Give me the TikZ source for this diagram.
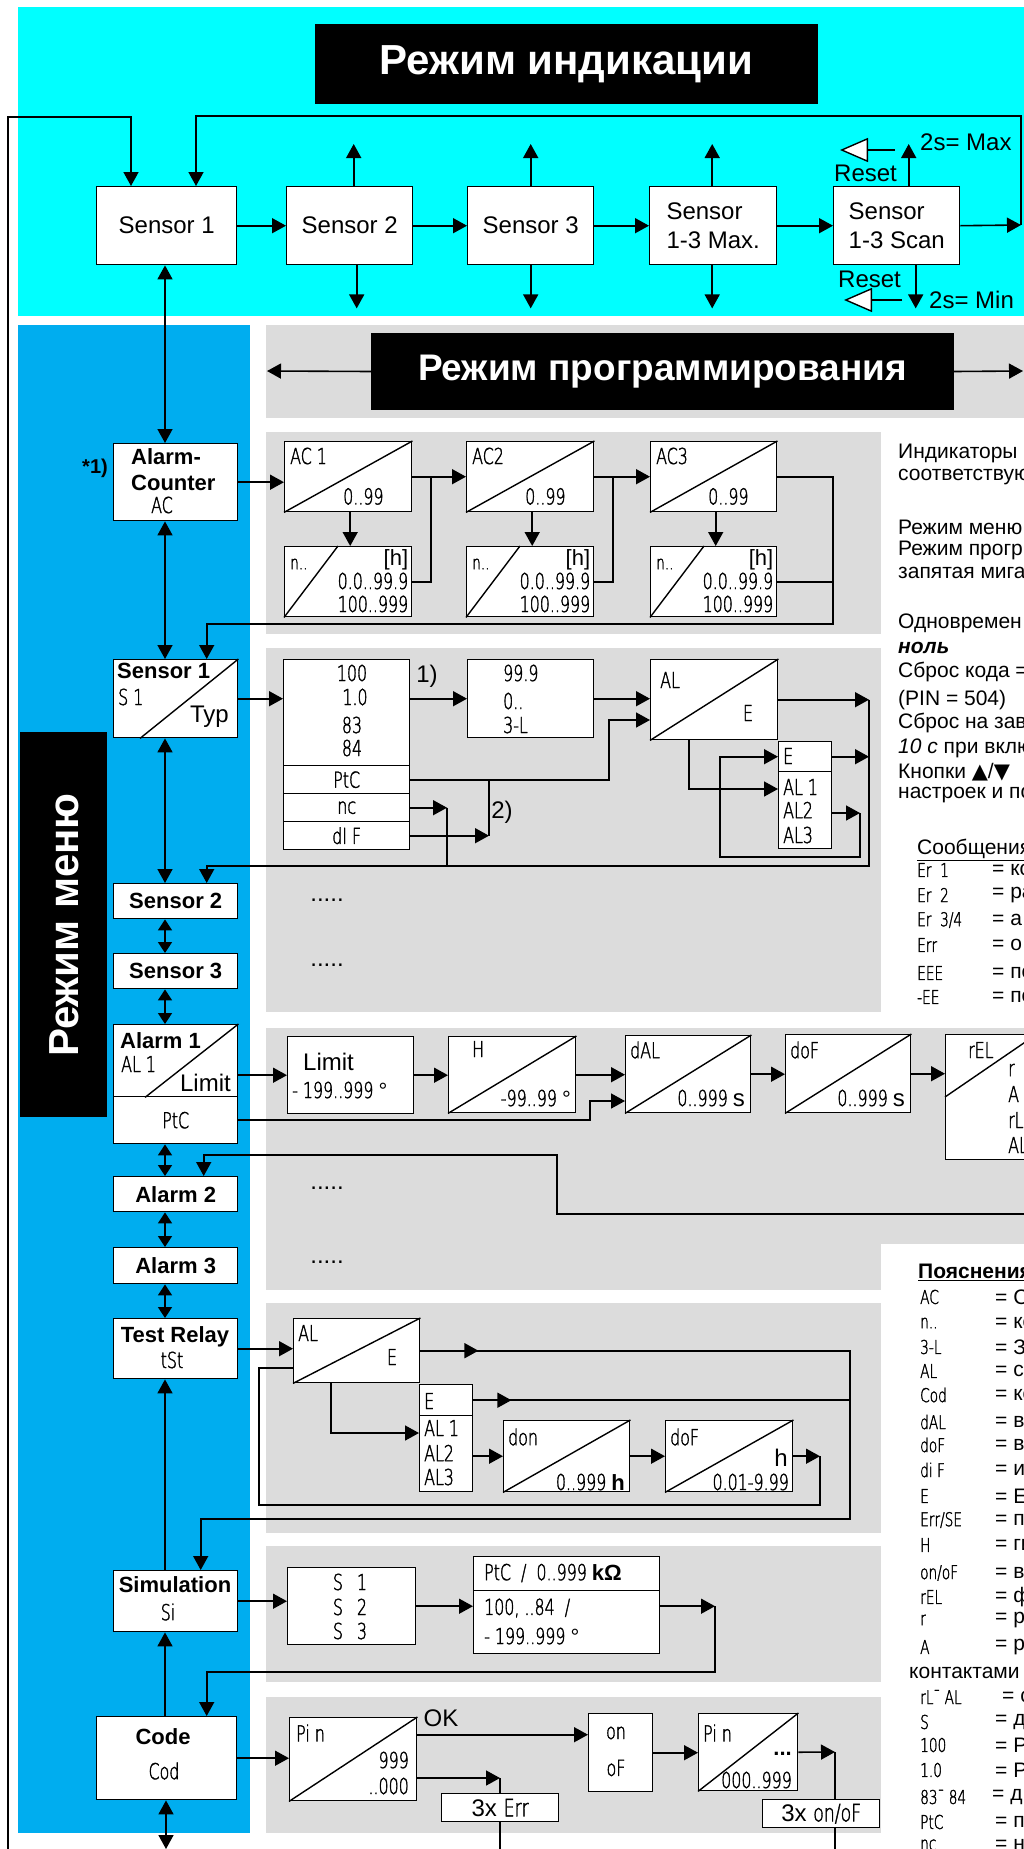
\documentclass[tikz,border=0pt]{standalone}
\usepackage{fontspec}
\setmainfont{Liberation Sans}
\newfontfamily\segfont{DejaVu Sans ExtraLight}[FakeStretch=0.72, FakeBold=1.5]
\newfontfamily\symfont{DejaVu Sans}
\usetikzlibrary{arrows.meta,positioning}

\definecolor{indcyan}{HTML}{00FFFF}
\definecolor{menublue}{HTML}{00ADEF}
\definecolor{panelgrey}{HTML}{DCDCDC}

\begin{document}
\begin{tikzpicture}[
    x=1pt, y=-1pt,
    >={Triangle[length=14pt,width=15pt]},
    wire/.style={line width=1.6pt},
    conn/.style={wire, ->},
    dconn/.style={wire, <->},
    sconn/.style={wire, {Triangle[length=11pt,width=14pt]}-{Triangle[length=11pt,width=14pt]}},
    resettip/.style={line width=1.4pt, -{Triangle[length=28pt,width=24pt,fill=white]}},
    dbox/.style={draw, fill=white, line width=1.4pt, inner sep=0pt, anchor=north west},
    wh/.style 2 args={minimum width=#1pt, minimum height=#2pt},
    diag/.style={line width=1.4pt},
    seg/.style={font=\segfont\fontsize{22}{24}\selectfont, inner sep=0pt},
    segs/.style={font=\segfont\fontsize{19}{21}\selectfont, inner sep=0pt},
    txt/.style={font=\fontsize{24}{29}\selectfont, inner sep=0pt},
    btxt/.style={font=\bfseries\fontsize{22}{26}\selectfont, inner sep=0pt},
    note/.style={font=\fontsize{21}{25}\selectfont, inner sep=0pt, anchor=west},
    titlebox/.style={fill=black, text=white, inner sep=0pt}
]

% Background areas
\useasboundingbox (0,0) rectangle (1024,1849);
\clip (0,0) rectangle (1024,1849);
\fill[white] (0,0) rectangle (1024,1849);
\fill[indcyan] (18,7) rectangle (1024,316);
\fill[menublue] (18,325) rectangle (250,1833);
\foreach \ya/\yb/\xb in {325/418/1024, 432/634/881, 648/1012/881, 1028/1244/1024,
    1244/1290/881, 1303/1533/881, 1546/1682/881, 1697/1833/881}
  \fill[panelgrey] (266,\ya) rectangle (\xb,\yb);

% Display mode
\node[titlebox, font=\bfseries\fontsize{42}{48}\selectfont, minimum width=503pt, minimum height=80pt] (indtitle) at (566.5,64) {Режим индикации};

\node[dbox, wh={140}{78}, txt] (sen1) at (96,186) {Sensor 1};
\node[dbox, wh={126}{78}, txt] (sen2) at (286,186) {Sensor 2};
\node[dbox, wh={126}{78}, txt] (sen3) at (467,186) {Sensor 3};
\node[dbox, wh={127}{78}, txt, align=left] (senmax) at (649,186) {Sensor\\1-3 Max.};
\node[dbox, wh={126}{78}, txt, align=left] (senscan) at (833,186) {Sensor\\1-3 Scan};

\draw[conn] (sen1.east) -- (sen2.west);
\draw[conn] (sen2.east) -- (sen3.west);
\draw[conn] (sen3.east) -- (senmax.west);
\draw[conn] (senmax.east) -- (senscan.west);

\coordinate (scanout) at (1021,225);
\coordinate (loopa) at (196,116);
\coordinate (loopb) at (131,117);
\coordinate (retbot) at (8,1849);
\draw[conn] (senscan.east) -- (scanout);
\draw[conn] (scanout) |- (loopa) -- (loopa |- sen1.north);
\draw[conn] (retbot) |- (loopb) -- (loopb |- sen1.north);

\draw[conn] ([xshift=4pt]sen2.north) -- ++(0,-42);
\draw[conn] ([xshift=7pt]sen2.south) -- ++(0,43);
\draw[conn] (sen3.north) -- ++(0,-42);
\draw[conn] (sen3.south) -- ++(0,43);
\draw[conn] ([xshift=-1pt]senmax.north) -- ++(0,-42);
\draw[conn] ([xshift=-1pt]senmax.south) -- ++(0,43);
\draw[conn] ([xshift=12pt]senscan.north) -- ++(0,-42);
\draw[conn] ([xshift=19pt]senscan.south) -- ++(0,43);

\node[txt, anchor=west] (maxlbl) at (920,142) {2s= Max};
\node[txt, anchor=west] (minlbl) at (929,300) {2s= Min};
\node[txt, anchor=west] (rstup) at (834,173) {Reset};
\node[txt, anchor=west] (rstdn) at (838,279) {Reset};
\coordinate (rstupend) at (895,150);
\coordinate (rstdnend) at (902,300);
\draw[resettip] (rstupend) -- ++(-55,0);
\draw[resettip] (rstdnend) -- ++(-58,0);

% Menu column
\node[titlebox, minimum width=87pt, minimum height=385pt, anchor=north west] (menutitle) at (20,732) {};
\node[rotate=90, text=white, font=\bfseries\fontsize{42}{48}\selectfont, inner sep=0pt] (menutext) at (64,925) {Режим меню};

\node[dbox, wh={124}{77}] (acnt) at (113,443) {};
\node[btxt, anchor=west] (acnta) at (131,457) {Alarm-};
\node[btxt, anchor=west] (acntb) at (131,483) {Counter};
\node[seg, anchor=west] (acntc) at (151,505) {AC};
\node[btxt, font=\bfseries\fontsize{20}{24}\selectfont, anchor=east] (star) at (108,468) {*1)};

\node[dbox, wh={124}{78}] (ms1) at (113,659) {};
\draw[diag] ([xshift=27pt]ms1.south west) -- (ms1.north east);
\node[btxt, anchor=west] (ms1a) at (117,671) {Sensor 1};
\node[seg, anchor=west] (ms1b) at (118,697) {S 1};
\node[txt, anchor=east] (ms1c) at (229,717) {Typ};

\node[dbox, wh={124}{35}, btxt] (ms2) at (113,883) {Sensor 2};
\node[dbox, wh={124}{35}, btxt] (ms3) at (113,953) {Sensor 3};

\node[dbox, wh={124}{72}] (mal1) at (113,1024) {};
\node[dbox, wh={124}{47}, seg] (mal1p) at (113,1096) {PtC};
\draw[diag] ([xshift=32pt]mal1.south west) -- (mal1.north east);
\node[btxt, anchor=west] (mal1a) at (120,1041) {Alarm 1};
\node[seg, anchor=west] (mal1b) at (121,1064) {AL 1};
\node[txt, anchor=east] (mal1c) at (231,1083) {Limit};

\node[dbox, wh={124}{35}, btxt] (mal2) at (113,1176) {Alarm 2};
\node[dbox, wh={124}{36}, btxt] (mal3) at (113,1247) {Alarm 3};

\node[dbox, wh={124}{60}] (mtst) at (113,1318) {};
\node[btxt] (mtsta) at (175,1337) {Test Relay};
\node[seg] (mtstb) at (172,1360) {tSt};

\node[dbox, wh={124}{61}] (msim) at (113,1570) {};
\node[btxt] (msima) at (175,1585) {Simulation};
\node[seg] (msimb) at (168,1612) {Si};

\node[dbox, wh={140}{83}] (mcod) at (96,1716) {};
\node[btxt] (mcoda) at (163,1737) {Code};
\node[seg] (mcodb) at (164,1771) {Cod};

\coordinate (spine) at (165,0);
\coordinate (codbot) at (166,1849);
\draw[dconn] (spine |- sen1.south) -- (spine |- acnt.north);
\draw[dconn] (spine |- acnt.south) -- (spine |- ms1.north);
\draw[dconn] (spine |- ms1.south) -- (spine |- ms2.north);
\draw[sconn] (spine |- ms2.south) -- (spine |- ms3.north);
\draw[sconn] (spine |- ms3.south) -- (spine |- mal1.north);
\draw[sconn] (spine |- mal1p.south) -- (spine |- mal2.north);
\draw[sconn] (spine |- mal2.south) -- (spine |- mal3.north);
\draw[sconn] (spine |- mal3.south) -- (spine |- mtst.north);
\draw[conn] (spine |- msim.north) -- (spine |- mtst.south);
\draw[conn] (spine |- mcod.north) -- (spine |- msim.south);
\draw[dconn] (codbot |- mcod.south) -- (codbot);

% Programming mode title
\node[titlebox, font=\bfseries\fontsize{37}{42}\selectfont, minimum width=583pt, minimum height=77pt] (progtitle) at (662.5,371.5) {Режим программирования};
\coordinate (progl) at (267,371);
\coordinate (progr) at (1023,371);
\draw[conn] (progtitle.west) -- (progl);
\draw[conn] (progtitle.east) -- (progr);

% Alarm counter row
\node[dbox, wh={127}{70}] (ac1) at (284,441) {};
\node[dbox, wh={127}{70}] (nh1) at (284,546) {};
\node[dbox, wh={127}{70}] (ac2) at (466,441) {};
\node[dbox, wh={127}{70}] (nh2) at (466,546) {};
\node[dbox, wh={126}{70}] (ac3) at (650,441) {};
\node[dbox, wh={126}{70}] (nh3) at (650,546) {};
\foreach \b/\t in {ac1/AC 1, ac2/AC2, ac3/AC3} {
  \draw[diag] (\b.south west) -- (\b.north east);
  \node[seg, anchor=west] (t\b) at ([xshift=6pt,yshift=-15pt]\b.north west) {\t};
  \node[seg] (v\b) at ([xshift=-49pt,yshift=16pt]\b.south east) {0..99};
}
\foreach \b in {nh1, nh2, nh3} {
  \draw[diag] (\b.south west) -- ([xshift=54pt]\b.north west);
  \node[segs, anchor=west] (n\b) at ([xshift=6pt,yshift=-18pt]\b.north west) {n..};
  \node[font=\fontsize{22}{24}\selectfont, inner sep=0pt, anchor=east] (h\b) at ([xshift=-4pt,yshift=-14pt]\b.north east) {[h]};
  \node[seg, anchor=east] (r\b) at ([xshift=-4pt,yshift=-35pt]\b.north east) {0.0..99.9};
  \node[seg, anchor=east] (q\b) at ([xshift=-4pt,yshift=-58pt]\b.north east) {100..999};
}
\coordinate (jac1) at (431,476);
\coordinate (jac2) at (613,476);
\coordinate (acloop) at (833,624);
\draw[conn] (acnt.east) -- (acnt.east -| ac1.west);
\draw[conn] ([xshift=2pt]ac1.south) -- ([xshift=2pt]nh1.north);
\draw[conn] ([xshift=2pt]ac2.south) -- ([xshift=2pt]nh2.north);
\draw[conn] ([xshift=2pt]ac3.south) -- ([xshift=2pt]nh3.north);
\draw[conn] (ac1.east) -- (ac2.west);
\draw[wire] (nh1.east) -| (jac1);
\draw[conn] (ac2.east) -- (ac3.west);
\draw[wire] (nh2.east) -| (jac2);
\draw[conn] (ac3.east) -| (acloop) -| ([xshift=31pt]ms1.north);
\draw[wire] (nh3.east) -- (nh3.east -| acloop);

% Sensor 1 row
\node[dbox, wh={126}{106}] (typa) at (283,659) {};
\node[dbox, wh={126}{28}, seg] (typb) at (283,765) {PtC};
\node[dbox, wh={126}{28}, seg] (typc) at (283,793) {nc};
\node[dbox, wh={126}{28}, seg] (typd) at (283,821) {dI F};
\node[seg] (t100) at (352,673) {100};
\node[seg] (t10) at (355,697) {1.0};
\node[seg] (t83) at (352,725) {83};
\node[seg] (t84) at (352,748) {84};
\node[txt] (fn1) at (427,676) {1)};

\node[dbox, wh={126}{78}] (box999) at (467,659) {};
\node[seg, anchor=west] (r999) at (503,673) {99.9};
\node[seg, anchor=west] (r0) at (503,701) {0..};
\node[seg, anchor=west] (r3l) at (503,725) {3-L};

\node[dbox, wh={127}{80}] (boxal) at (650,659) {};
\draw[diag] (boxal.south west) -- (boxal.north east);
\node[seg, anchor=west] (boxalt) at (660,680) {AL};
\node[seg] (boxalv) at (748,713) {E};

\node[dbox, wh={53}{30}] (lste) at (778,741) {};
\node[dbox, wh={53}{77}] (lsta) at (778,771) {};
\node[seg, anchor=west] (lste1) at (783,756) {E};
\node[seg, anchor=west] (lsta1) at (783,787) {AL 1};
\node[seg, anchor=west] (lsta2) at (783,810) {AL2};
\node[seg, anchor=west] (lsta3) at (783,835) {AL3};

\coordinate (ptcbend) at (609,720);
\coordinate (difjoin) at (489,779);
\coordinate (ncjoin) at (447,807);
\coordinate (s1loop) at (869,866);
\coordinate (albend) at (689,789);
\coordinate (al2out) at (860,813);
\coordinate (al2back) at (720,857);
\draw[conn] (ms1.east) -- (ms1.east -| typa.west);
\draw[conn] (box999.west -| typa.east) -- (box999.west);
\draw[conn] (box999.east) -- (box999.east -| boxal.west);
\draw[conn] (typb.east) -| (ptcbend) -- (ptcbend -| boxal.west);
\draw[wire] (difjoin) -- (difjoin |- typd.east);
\draw[conn] (typd.east) -- (typd.east -| difjoin);
\node[txt] (fn2) at (502,812) {2)};
\draw[conn] (typc.east) -- (typc.east -| ncjoin);
\draw[wire] (typc.east -| ncjoin) -- (ncjoin |- s1loop);
\draw[conn] (boxal.east) -- (boxal.east -| s1loop);
\draw[conn] (boxal.east -| s1loop) -- (s1loop) -| ([xshift=31pt]ms2.north);
\draw[conn] (lste.east) -- (lste.east -| s1loop);
\draw[conn] (boxal.south -| albend) |- (albend -| lsta.west);
\draw[conn] (al2out -| lsta.east) -- (al2out);
\draw[conn] (al2out) |- (al2back) |- (lste.west);

\node[txt] (dots1) at (327,900) {.....};
\node[txt] (dots2) at (327,965) {.....};

% Alarm 1 row
\node[dbox, wh={126}{77}] (limbox) at (287,1036) {};
\node[txt, anchor=west] (limt) at (303,1062) {Limit};
\node[seg, anchor=west] (limv) at (292,1090) {- 199..999 {\rmfamily °}};

\node[dbox, wh={127}{76}] (hbox) at (448,1036) {};
\draw[diag] (hbox.south west) -- (hbox.north east);
\node[seg, anchor=west] (ht) at (472,1049) {H};
\node[seg, anchor=east] (hv) at (571,1098) {-99..99 {\rmfamily °}};

\node[dbox, wh={125}{77}] (dalbox) at (625,1035) {};
\draw[diag] (dalbox.south west) -- (dalbox.north east);
\node[seg, anchor=west] (dalt) at (630,1050) {dAL};
\node[seg, anchor=east] (dalv) at (745,1098) {0..999 {\rmfamily\fontsize{24}{24}\selectfont s}};

\node[dbox, wh={125}{78}] (dofbox) at (785,1034) {};
\draw[diag] (dofbox.south west) -- (dofbox.north east);
\node[seg, anchor=west] (doft) at (790,1050) {doF};
\node[seg, anchor=east] (dofv) at (905,1098) {0..999 {\rmfamily\fontsize{24}{24}\selectfont s}};

\node[dbox, wh={127}{125}] (relbox) at (945,1034) {};
\draw[diag] ([yshift=-63pt]relbox.north west) -- ([xshift=92pt]relbox.north west);
\node[seg, anchor=west] (relt) at (968,1050) {rEL};
\node[seg, anchor=west] (rel1) at (1008,1070) {r};
\node[seg, anchor=west] (rel2) at (1008,1094) {A};
\node[seg, anchor=west] (rel3) at (1008,1120) {rL};
\node[seg, anchor=west] (rel4) at (1008,1145) {AL};

\coordinate (ptcbend2) at (590,1101);
\coordinate (al1ret) at (1030,1214);
\coordinate (al1bend) at (557,1155);
\draw[conn] (limbox.west -| mal1.east) -- (limbox.west);
\draw[conn] (limbox.east) -- (limbox.east -| hbox.west);
\draw[conn] (hbox.east) -- (hbox.east -| dalbox.west);
\draw[conn] (mal1p.east) -| (ptcbend2) -- (ptcbend2 -| dalbox.west);
\draw[conn] (dalbox.east) -- (dalbox.east -| dofbox.west);
\draw[conn] (dofbox.east) -- (dofbox.east -| relbox.west);
\draw[conn] (al1ret) -| (al1bend) -| ([xshift=28pt]mal2.north);

\node[txt] (dots3) at (327,1188) {.....};
\node[txt] (dots4) at (327,1262) {.....};

% Test relay row
\node[dbox, wh={126}{64}] (tal) at (293,1318) {};
\draw[diag] (tal.south west) -- (tal.north east);
\node[seg, anchor=west] (talt) at (298,1333) {AL};
\node[seg] (talv) at (392,1357) {E};

\node[dbox, wh={53}{31}] (tlste) at (419,1384) {};
\node[dbox, wh={53}{76}] (tlsta) at (419,1415) {};
\node[seg, anchor=west] (tlste1) at (424,1401) {E};
\node[seg, anchor=west] (tlsta1) at (424,1428) {AL 1};
\node[seg, anchor=west] (tlsta2) at (424,1453) {AL2};
\node[seg, anchor=west] (tlsta3) at (424,1477) {AL3};

\node[dbox, wh={126}{71}] (tdon) at (503,1420) {};
\draw[diag] (tdon.south west) -- (tdon.north east);
\node[seg, anchor=west] (tdont) at (508,1437) {don};
\node[seg, anchor=east] (tdonv) at (625,1482) {0..999 {\rmfamily\bfseries\fontsize{22}{24}\selectfont h}};

\node[dbox, wh={127}{71}] (tdof) at (665,1420) {};
\draw[diag] (tdof.south west) -- (tdof.north east);
\node[seg, anchor=west] (tdoft) at (670,1437) {doF};
\node[txt, anchor=east] (tdofh) at (788,1458) {h};
\node[seg, anchor=east] (tdofv) at (789,1482) {0.01-9.99};

\coordinate (tloop) at (850,1519);
\coordinate (tal1) at (331,1433);
\coordinate (tdloop) at (820,1505);
\coordinate (tdleft) at (259,1368);
\draw[conn] (mtst.east) -- (mtst.east -| tal.west);
\draw[conn] (tal.east) -- ++(58,0);
\draw[conn] (tal.east) -| (tloop) -| ([xshift=25pt]msim.north);
\draw[conn] (tlste.east) -- ++(38,0);
\draw[wire] (tlste.east) -- (tlste.east -| tloop);
\draw[conn] (tal.south -| tal1) |- (tal1 -| tlsta.west);
\draw[conn] (tdon.west -| tlsta.east) -- (tdon.west);
\draw[conn] (tdon.east) -- (tdof.west);
\draw[conn] (tdof.east) -- (tdof.east -| tdloop);
\draw[wire] (tdof.east -| tdloop) -- (tdloop) -| (tdleft) -- (tdleft -| tal.west);

% Simulation row
\node[dbox, wh={128}{77}] (sbox) at (287,1567) {};
\node[seg] (ss1) at (350,1582) {S\hspace{14pt}1};
\node[seg] (ss2) at (350,1607) {S\hspace{14pt}2};
\node[seg] (ss3) at (350,1631) {S\hspace{14pt}3};

\node[dbox, wh={186}{34}] (ptct) at (473,1556) {};
\node[dbox, wh={186}{63}] (ptcb) at (473,1590) {};
\node[seg, anchor=west] (ptctt) at (484,1573) {PtC\ \ /\ \ 0..999 {\rmfamily\bfseries kΩ}};
\node[seg, anchor=west] (ptcb1) at (484,1608) {100, ..84\ \ /};
\node[seg, anchor=west] (ptcb2) at (484,1636) {- 199..999 {\rmfamily °}};

\coordinate (simloop) at (715,1672);
\draw[conn] (msim.east) -- (msim.east -| sbox.west);
\draw[conn] (sbox.east) -- (sbox.east -| ptcb.west);
\draw[conn] (sbox.east -| ptcb.east) -- (sbox.east -| simloop);
\draw[conn] (sbox.east -| simloop) -- (simloop) -| ([xshift=40pt]mcod.north);

% Code row
\node[dbox, wh={127}{83}] (pin1) at (289,1717) {};
\draw[diag] (pin1.south west) -- (pin1.north east);
\node[seg, anchor=west] (pin1t) at (296,1733) {Pi n};
\node[seg, anchor=east] (pin1a) at (409,1760) {999};
\node[seg, anchor=east] (pin1b) at (409,1786) {..000};
\node[txt] (oklbl) at (441,1718) {OK};

\node[dbox, wh={64}{78}] (onof) at (588,1713) {};
\node[seg] (onoft) at (616,1733) {on};
\node[seg] (onofb) at (616,1768) {oF};

\node[dbox, wh={99}{77}] (pin2) at (698,1713) {};
\draw[diag] (pin2.south west) -- (pin2.north east);
\node[seg, anchor=west] (pin2t) at (703,1733) {Pi n};
\node[font=\bfseries\fontsize{22}{24}\selectfont, inner sep=0pt, anchor=east] (pin2a) at (792,1754) {...};
\node[seg, anchor=east] (pin2b) at (792,1780) {000..999};

\node[dbox, wh={117}{28}, txt] (errbox) at (441,1793) {3x {\segfont Err}};
\node[dbox, wh={117}{28}, txt] (onoferr) at (762,1799) {3x {\segfont on/oF}};

\coordinate (errin) at (500,1778);
\coordinate (errbot) at (500,1849);
\coordinate (pinout) at (835,1752);
\coordinate (pinbot) at (835,1849);
\draw[conn] (mcod.east) -- (mcod.east -| pin1.west);
\draw[conn] ([yshift=24.5pt]pin1.east) -- ([yshift=24.5pt]pin1.east -| onof.west);
\draw[conn] (errin -| pin1.east) -- (errin);
\draw[wire] (errin) -- (errin |- errbox.north);
\draw[wire] (errin |- errbox.south) -- (errbot);
\draw[conn] (onof.east) -- (onof.east -| pin2.west);
\draw[conn] (pin2.east) -- (pinout);
\draw[wire] (pinout) -- (pinout |- onoferr.north);
\draw[wire] (pinout |- onoferr.south) -- (pinbot);

% Notes column
\node[note] (nt1) at (898,453) {Индикаторы};
\node[note] (nt2) at (898,477) {соответствую};
\node[note] (nt3) at (898,527) {Режим меню};
\node[note] (nt4) at (898,550) {Режим прогр};
\node[note] (nt5) at (898,573) {запятая мига};
\node[note] (nt6) at (898,623) {Одновремен};
\node[note] (nt7) at (898,648) {\bfseries\itshape ноль};
\node[note] (nt8) at (898,672) {Сброс кода =};
\node[note] (nt9) at (898,700) {(PIN = 504)};
\node[note] (nt10) at (898,723) {Сброс на зав};
\node[note] (nt11) at (898,748) {\textit{10 с} при вклю};
\node[note] (nt12) at (898,772) {Кнопки {\symfont ▲}/{\symfont ▼}};
\node[note] (nt13) at (898,795) {настроек и по};

\node[note] (msgtitle) at (917,850) {\underline{Сообщения}};
\foreach \c/\t/\y in {{Er\ \ 1}/ко/870, {Er\ \ 2}/ра/895, {Er\ \ 3/4}/а/920,
    Err/о/945, EEE/по/973, -EE/по/997} {
  \node[segs, anchor=west] (mc\y) at (917,\y) {\c};
  \node[note] (mt\y) at (992,\y) {= \t};
}

\node[note, font=\bfseries\fontsize{21}{25}\selectfont] (legtitle) at (918,1272) {\underline{Пояснения}};
\foreach \c/\t/\y in {AC/С/1297, n../ко/1323, 3-L/З/1347, AL/с/1371, Cod/ко/1395,
    dAL/в/1422, doF/в/1445, di F/и/1470, E/Е/1496, {Err/SE}/п/1520, H/ги/1545,
    {on/oF}/в/1573, rEL/ф/1597, r/р/1620, A/р/1647, S/д/1722, { 100}/Р/1745,
    { 1.0}/Р/1770, PtC/п/1822, nc/н/1845} {
  \node[segs, anchor=west] (lc\y) at (920,\y) {\c};
  \node[note] (lt\y) at (995,\y) {= \t};
}
\node[note] (lcont) at (909,1673) {контактами};
\node[segs, anchor=west] (lc1697) at (920,1697) {rL¯ AL};
\node[note] (lt1697) at (1002,1697) {= с};
\node[segs, anchor=west] (lc1797) at (920,1797) {83¯ 84};
\node[note] (lt1797) at (992,1797) {= д};

\end{tikzpicture}
\end{document}
